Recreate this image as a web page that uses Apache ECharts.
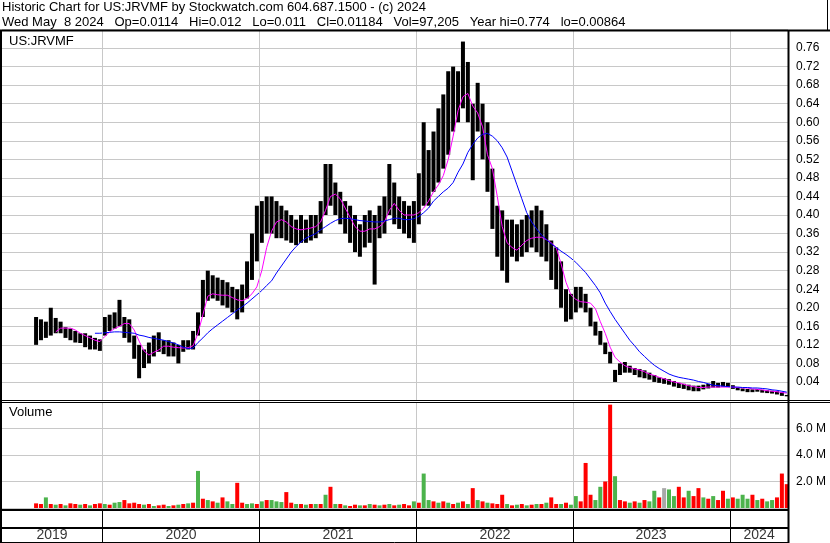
<!DOCTYPE html>
<html>
<head>
<meta charset="utf-8">
<title>US:JRVMF</title>
<script src="https://cdn.jsdelivr.net/npm/echarts@6/dist/echarts.min.js"></script>
<style>
  html, body { margin: 0; padding: 0; background: #fff; }
  #chart { width: 830px; height: 543px; }
</style>
</head>
<body>
<div id="chart"></div>
<script>
// one sample about every 1/32 of a year, from late Jul 2019 to May 2024
const startYear = 2019.58
const stepYear = 1 / 32

const highs = [
  0.18, 0.175, 0.17, 0.20, 0.178, 0.17, 0.158, 0.155, 0.15, 0.145,
  0.145, 0.14, 0.135, 0.132, 0.18, 0.185, 0.19, 0.217, 0.18, 0.175,
  0.14, 0.12, 0.11, 0.125, 0.14, 0.147, 0.13, 0.13, 0.125, 0.12,
  0.13, 0.13, 0.15, 0.19, 0.26, 0.28, 0.27, 0.265, 0.26, 0.255,
  0.245, 0.24, 0.25, 0.30, 0.36, 0.42, 0.43, 0.44, 0.44, 0.43,
  0.42, 0.41, 0.40, 0.39, 0.40, 0.39, 0.40, 0.40, 0.43, 0.51,
  0.51, 0.47, 0.45, 0.43, 0.42, 0.40, 0.38, 0.40, 0.41, 0.40,
  0.42, 0.44, 0.51, 0.47, 0.44, 0.43, 0.42, 0.43, 0.49, 0.60,
  0.54, 0.58, 0.63, 0.66, 0.71, 0.72, 0.71, 0.774, 0.73, 0.64,
  0.685, 0.64, 0.60, 0.50, 0.42, 0.41, 0.39, 0.39, 0.38, 0.39,
  0.40, 0.41, 0.42, 0.41, 0.38, 0.345, 0.33, 0.30, 0.24, 0.23,
  0.245, 0.245, 0.23, 0.20, 0.17, 0.15, 0.125, 0.105, 0.066, 0.08,
  0.083, 0.075, 0.07, 0.068, 0.065, 0.06, 0.055, 0.05, 0.048, 0.046,
  0.042, 0.038, 0.036, 0.034, 0.032, 0.032, 0.034, 0.036, 0.042, 0.038,
  0.04, 0.038, 0.033, 0.028, 0.026, 0.025, 0.024, 0.025, 0.023, 0.022,
  0.021, 0.02, 0.018, 0.012
]
const lows = [
  0.12, 0.13, 0.135, 0.14, 0.145, 0.145, 0.135, 0.13, 0.125, 0.124,
  0.115, 0.11, 0.11, 0.107, 0.14, 0.15, 0.155, 0.16, 0.135, 0.125,
  0.09, 0.048, 0.07, 0.08, 0.095, 0.105, 0.10, 0.095, 0.095, 0.08,
  0.105, 0.11, 0.11, 0.14, 0.18, 0.215, 0.22, 0.215, 0.205, 0.20,
  0.19, 0.175, 0.19, 0.22, 0.26, 0.30, 0.34, 0.36, 0.36, 0.35,
  0.35, 0.345, 0.34, 0.335, 0.34, 0.34, 0.345, 0.35, 0.36, 0.40,
  0.42, 0.40, 0.38, 0.36, 0.34, 0.32, 0.31, 0.33, 0.34, 0.25,
  0.35, 0.36, 0.40, 0.38, 0.37, 0.36, 0.35, 0.34, 0.38, 0.42,
  0.42, 0.45, 0.47, 0.50, 0.53, 0.58, 0.60, 0.63, 0.60, 0.475,
  0.58, 0.52, 0.45, 0.37, 0.31, 0.28, 0.254, 0.31, 0.30, 0.31,
  0.32, 0.33, 0.32, 0.31, 0.30, 0.26, 0.24, 0.20, 0.17, 0.175,
  0.19, 0.20, 0.19, 0.16, 0.14, 0.12, 0.10, 0.08, 0.04, 0.055,
  0.06, 0.06, 0.055, 0.05, 0.048, 0.045, 0.04, 0.038, 0.036, 0.034,
  0.03, 0.027, 0.025, 0.022, 0.02, 0.02, 0.024, 0.026, 0.028, 0.028,
  0.03, 0.029, 0.025, 0.022, 0.02, 0.018, 0.018, 0.019, 0.017, 0.016,
  0.015, 0.013, 0.01, 0.009
]
// magenta (short) and blue (long) moving averages
const maShort = [
  null, null, null, null, 0.148, 0.156, 0.156, 0.156, 0.152, 0.145,
  0.14, 0.135, 0.13, 0.127, 0.138, 0.148, 0.155, 0.16, 0.166, 0.166,
  0.152, 0.128, 0.107, 0.098, 0.104, 0.109, 0.117, 0.117, 0.115, 0.114,
  0.113, 0.114, 0.118, 0.145, 0.185, 0.225, 0.23, 0.228, 0.227, 0.227,
  0.222, 0.217, 0.215, 0.22, 0.23, 0.245, 0.28, 0.33, 0.365, 0.385,
  0.39, 0.385, 0.375, 0.37, 0.368, 0.37, 0.372, 0.375, 0.385, 0.41,
  0.44, 0.445, 0.435, 0.415, 0.395, 0.375, 0.365, 0.365, 0.37, 0.37,
  0.375, 0.385, 0.41, 0.425, 0.41, 0.40, 0.40, 0.40, 0.405, 0.415,
  0.43, 0.45, 0.465, 0.485, 0.52, 0.57, 0.625, 0.655, 0.662, 0.635,
  0.62, 0.59, 0.53, 0.50, 0.44, 0.375, 0.34, 0.33, 0.324, 0.335,
  0.345, 0.35, 0.352, 0.352, 0.347, 0.34, 0.33, 0.295, 0.255, 0.228,
  0.218, 0.213, 0.212, 0.21, 0.198, 0.17, 0.145, 0.115, 0.093, 0.083,
  0.075, 0.071, 0.068, 0.066, 0.062, 0.057, 0.054, 0.05, 0.047, 0.043,
  0.04, 0.038, 0.035, 0.032, 0.03, 0.028, 0.028, 0.029, 0.029, 0.029,
  0.029, 0.029, 0.029, 0.028, 0.027, 0.027, 0.025, 0.024, 0.023, 0.021,
  0.02, 0.019, 0.017, 0.016
]
const maLong = [
  null, null, null, null, null, null, null, null, null, null,
  null, null, 0.145, 0.145, 0.146, 0.147, 0.148, 0.148, 0.147, 0.146,
  0.145, 0.141, 0.139, 0.136, 0.134, 0.132, 0.13, 0.127, 0.124, 0.12,
  0.115, 0.112, 0.113, 0.125, 0.135, 0.146, 0.155, 0.163, 0.171, 0.179,
  0.187, 0.195, 0.202, 0.21, 0.219, 0.228, 0.237, 0.248, 0.258, 0.275,
  0.29, 0.305, 0.32, 0.332, 0.342, 0.35, 0.355, 0.36, 0.368, 0.375,
  0.382, 0.388, 0.392, 0.393, 0.392, 0.39, 0.388, 0.387, 0.386, 0.385,
  0.385, 0.387, 0.39, 0.393, 0.393, 0.39, 0.39, 0.392, 0.397, 0.405,
  0.415, 0.43, 0.44, 0.45, 0.458, 0.47, 0.492, 0.51, 0.535, 0.552,
  0.566, 0.574, 0.576, 0.57, 0.56, 0.545, 0.525, 0.495, 0.465, 0.435,
  0.405, 0.385, 0.37, 0.357, 0.347, 0.338, 0.33, 0.322, 0.315, 0.307,
  0.298, 0.287, 0.276, 0.262, 0.248, 0.232, 0.21, 0.192, 0.175, 0.16,
  0.145, 0.13, 0.118, 0.105, 0.095, 0.085, 0.076, 0.069, 0.063, 0.057,
  0.053, 0.05, 0.048, 0.046, 0.044, 0.041, 0.039, 0.036, 0.033, 0.032,
  0.031, 0.03, 0.029, 0.029, 0.028, 0.028, 0.027, 0.027, 0.026, 0.025,
  0.023, 0.022, 0.02, 0.018
]
// volume in millions, colour g = up, r = down, k = unchanged
const volumes = [
  0.35, 0.3, 0.8, 0.3, 0.25, 0.3, 0.2, 0.35, 0.3, 0.25,
  0.3, 0.2, 0.3, 0.35, 0.3, 0.25, 0.4, 0.45, 0.6, 0.35,
  0.4, 0.3, 0.25, 0.3, 0.15, 0.2, 0.25, 0.15, 0.2, 0.25,
  0.3, 0.35, 0.4, 2.8, 0.7, 0.6, 0.5, 0.4, 0.8, 0.5,
  0.3, 1.9, 0.4, 0.3, 0.35, 0.3, 0.5, 0.6, 0.6, 0.5,
  0.45, 1.2, 0.4, 0.3, 0.3, 0.25, 0.3, 0.3, 0.3, 1.0,
  1.6, 0.3, 0.3, 0.2, 0.15, 0.25, 0.2, 0.2, 0.3, 0.25,
  0.2, 0.25, 0.3, 0.2, 0.25, 0.3, 0.2, 0.5, 0.4, 2.6,
  0.6, 0.5, 0.4, 0.5, 0.4, 0.3, 0.4, 0.5, 0.3, 1.5,
  0.6, 0.5, 0.4, 0.35, 0.3, 1.0, 0.3, 0.2, 0.25, 0.3,
  0.2, 0.25, 0.3, 0.3, 0.4, 0.8, 0.3, 0.3, 0.4, 0.25,
  0.9, 0.5, 3.4, 1.0, 0.6, 1.6, 2.0, 7.8, 2.4, 0.6,
  0.5, 0.4, 0.5, 0.4, 0.6, 0.5, 1.3, 0.8, 1.5, 1.4,
  0.9, 1.6, 0.8, 1.3, 0.9, 1.5, 0.8, 0.7, 0.9, 0.6,
  1.3, 0.7, 0.8, 0.7, 1.0, 0.7, 1.0, 0.6, 0.7, 0.5,
  0.6, 0.8, 2.6, 1.8
]
const volColors = (
  'rrgrgrgrrg' + 'rgrrgrggrr' + 'rrgrgrrgrg' + 'rgrgrgrgrg' + 'grrggrgrgg' +
  'grrgrgrgrg' + 'rgrgrrgrgr' + 'grgrgrrgrg' + 'grgrgrgrgr' + 'grgrrrgrgr' +
  'grgrgrrgrg' + 'grrrggrrgr' + 'rgrgrggrkg' + 'grrgrrgrgr' + 'rgrgggrgrg' +
  'grrr'
).split('')

const yearNames = ['2019', '2020', '2021', '2022', '2023', '2024']
const yearLabelAt = [2019.682, 2020.503, 2021.503, 2022.503, 2023.497, 2024.185]
const yearStarts = [2020, 2021, 2022, 2023, 2024]

const xMin = 2019.363
const xMax = 2024.369
const gridColor = '#c8c8c8'
const font = 'Liberation Sans, Arial, sans-serif'
const colorMap = { g: '#4cb34c', r: '#ff0000', k: '#a8a8a8' }

const times = highs.map((h, i) => +(startYear + i * stepYear).toFixed(4))
const barData = times.map((t, i) => [t, lows[i], highs[i]])

function yearLines (color) {
  return {
    silent: true,
    symbol: ['none', 'none'],
    label: { show: false },
    lineStyle: { color: color, type: 'solid', width: 1 },
    emphasis: { disabled: true },
    animation: false,
    data: yearStarts.map(y => ({ xAxis: y }))
  }
}

function drawBar (params, api) {
  const top = api.coord([api.value(0), api.value(2)])
  const bottom = api.coord([api.value(0), api.value(1)])
  const w = 4
  return {
    type: 'rect',
    shape: { x: top[0] - w / 2, y: top[1], width: w, height: Math.max(1, bottom[1] - top[1]) },
    style: { fill: '#000' }
  }
}

function hline (y, x1, x2, w) {
  return { type: 'line', silent: true, z: 100, shape: { x1: x1, y1: y, x2: x2, y2: y }, style: { stroke: '#000', lineWidth: w || 1 } }
}
function vline (x, y1, y2, w) {
  return { type: 'line', silent: true, z: 100, shape: { x1: x, y1: y1, x2: x, y2: y2 }, style: { stroke: '#000', lineWidth: w || 1 } }
}
function text (x, y, s, size) {
  return { type: 'text', silent: true, z: 100, x: x, y: y, style: { text: s, fill: '#000', font: (size || 13) + 'px ' + font } }
}

const hiddenX = (gridIndex) => ({
  type: 'value', gridIndex: gridIndex, min: xMin, max: xMax,
  axisLine: { show: false }, axisTick: { show: false }, axisLabel: { show: false }, splitLine: { show: false }
})

const myChart = echarts.init(document.getElementById('chart'))
const option = {
  animation: false,
  backgroundColor: '#fff',
  grid: [
    { left: 2, right: 42, top: 29.5, height: 371 },
    { left: 2, right: 42, top: 402, height: 106 },
    { left: 2, right: 42, top: 510, height: 18 },
    { left: 2, right: 42, top: 528, height: 15 }
  ],
  xAxis: [hiddenX(0), hiddenX(1), hiddenX(2), hiddenX(3)],
  yAxis: [
    {
      type: 'value', gridIndex: 0, position: 'right', min: 0, max: 0.8, interval: 0.04,
      axisLine: { show: false }, axisTick: { show: false },
      axisLabel: { formatter: v => v.toFixed(2), color: '#000', fontSize: 12, fontFamily: font, margin: 8, showMinLabel: false, showMaxLabel: false },
      splitLine: { lineStyle: { color: gridColor, width: 1 } }
    },
    {
      type: 'value', gridIndex: 1, position: 'right', min: 0, max: 8, interval: 2,
      axisLine: { show: false }, axisTick: { show: false },
      axisLabel: { formatter: v => v.toFixed(1) + ' M', color: '#000', fontSize: 12, fontFamily: font, margin: 8, showMinLabel: false, showMaxLabel: false },
      splitLine: { lineStyle: { color: gridColor, width: 1 } }
    },
    { type: 'value', gridIndex: 2, min: 0, max: 1, show: false },
    { type: 'value', gridIndex: 3, min: 0, max: 1, show: false }
  ],
  series: [
    {
      name: 'grid', type: 'line', xAxisIndex: 0, yAxisIndex: 0, data: [], z: 1,
      markLine: yearLines(gridColor)
    },
    {
      name: 'price', type: 'custom', xAxisIndex: 0, yAxisIndex: 0, z: 2,
      renderItem: drawBar, encode: { x: 0, y: [1, 2] }, data: barData
    },
    {
      name: 'ma short', type: 'line', xAxisIndex: 0, yAxisIndex: 0, z: 3,
      showSymbol: false, connectNulls: false,
      lineStyle: { color: '#ff00ff', width: 1 },
      data: times.map((t, i) => [t, maShort[i]])
    },
    {
      name: 'ma long', type: 'line', xAxisIndex: 0, yAxisIndex: 0, z: 4,
      showSymbol: false, connectNulls: false,
      lineStyle: { color: '#0000ff', width: 1 },
      data: times.map((t, i) => [t, maLong[i]])
    },
    {
      name: 'vgrid', type: 'line', xAxisIndex: 1, yAxisIndex: 1, data: [], z: 1,
      markLine: yearLines(gridColor)
    },
    {
      name: 'volume', type: 'bar', xAxisIndex: 1, yAxisIndex: 1, z: 2,
      barWidth: 4,
      itemStyle: { color: p => colorMap[volColors[p.dataIndex]] },
      data: times.map((t, i) => [t, volumes[i]])
    },
    {
      name: 'strip', type: 'line', xAxisIndex: 2, yAxisIndex: 2, data: [],
      markLine: yearLines('#000')
    },
    {
      name: 'years', type: 'scatter', xAxisIndex: 3, yAxisIndex: 3, symbolSize: 0,
      markLine: yearLines('#000'),
      label: { show: true, position: 'inside', formatter: p => p.value[2], color: '#000', fontSize: 14, fontFamily: font },
      data: yearLabelAt.map((x, i) => [x, 0.5, yearNames[i]])
    }
  ],
  graphic: [
    text(2, 1, 'Historic Chart for US:JRVMF by Stockwatch.com 604.687.1500 - (c) 2024'),
    text(2, 16, 'Wed May  8 2024   Op=0.0114   Hi=0.012   Lo=0.011   Cl=0.01184   Vol=97,205   Year hi=0.774   lo=0.00864'),
    text(9, 35, 'US:JRVMF', 13),
    text(9, 406, 'Volume', 13),
    hline(30.5, 0, 830, 2),
    vline(827.5, 0, 31, 1),
    vline(1, 30, 543, 2),
    vline(788.5, 30, 543, 2),
    hline(400.5, 0, 830, 1),
    hline(402.5, 0, 830, 1),
    hline(510, 0, 789, 2),
    hline(528, 0, 789, 2),
    hline(542.5, 0, 789, 1)
  ]
}
myChart.setOption(option)
</script>
</body>
</html>
